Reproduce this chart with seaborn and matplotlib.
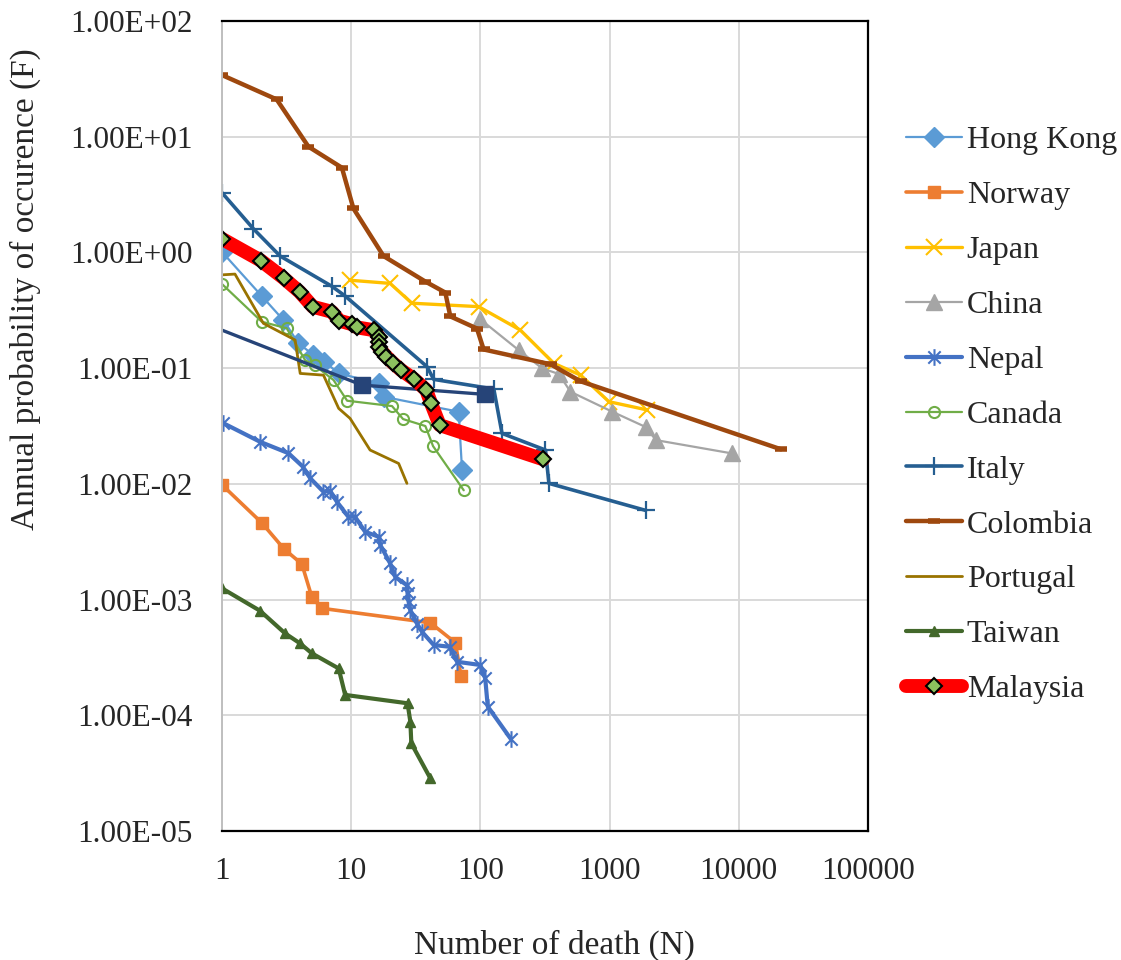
import matplotlib
matplotlib.use("Agg")
import matplotlib.pyplot as plt
import seaborn as sns
from matplotlib.path import Path
from matplotlib.ticker import FixedLocator, FuncFormatter, NullLocator

# F-N data (N = number of deaths, F = annual probability)
hk_n = [1, 2.03, 2.99, 3.9, 5.1, 6.2, 8.0, 16.3, 17.8, 67.9, 72.1]
hk_f = [1.01, 0.42, 0.26, 0.164, 0.13, 0.114, 0.090, 0.074, 0.0566, 0.042, 0.0131]

norway_n = [1, 2.03, 3.02, 4.15, 4.96, 5.93, 41, 64, 70.8]
norway_f = [0.0098, 0.00461, 0.00274, 0.00203, 0.00105, 0.00084, 0.00063, 0.000424, 0.000218]

japan_n = [9.8, 20, 29.5, 97, 204, 370, 596, 988, 1960]
japan_f = [0.575, 0.54, 0.364, 0.34, 0.213, 0.11, 0.087, 0.0513, 0.0435]

china_n = [100, 198, 301, 405, 498, 1050, 1925, 2275, 8930]
china_f = [0.264, 0.143, 0.0995, 0.089, 0.0625, 0.042, 0.0308, 0.0239, 0.0183]

nepal_n = [1.01, 1.97, 3.27, 4.22, 4.81, 6.1, 6.88, 7.75, 9.5, 10.7, 12.8, 16.3, 16.8,
           20, 21.9, 27, 27.3, 27.8, 28.7, 32.3, 35.3, 43.5, 57.8, 66, 100, 109, 114, 171]
nepal_f = [0.0337, 0.0231, 0.0184, 0.0141, 0.0112, 0.00855, 0.0087, 0.007, 0.0052, 0.0052,
           0.00386, 0.00349, 0.00296, 0.00206, 0.00157, 0.00133, 0.00113, 0.00096, 0.00081,
           0.00062, 0.000527, 0.000405, 0.000391, 0.00029, 0.000272, 0.000208, 0.000119, 0.000063]

canada_n = [1, 2.03, 3.17, 4.4, 5.2, 7.3, 9.3, 20.7, 25.2, 37.5, 43, 74.3]
canada_f = [0.533, 0.252, 0.221, 0.117, 0.106, 0.0789, 0.0523, 0.047, 0.0363, 0.0316, 0.0212, 0.0088]

italy_n = [1, 1.75, 2.82, 7.08, 8.98, 38.6, 43.5, 127, 147, 319, 339, 1900]
italy_f = [3.28, 1.6, 0.93, 0.51, 0.42, 0.103, 0.080, 0.066, 0.0273, 0.0196, 0.0101, 0.0059]

colombia_n = [1, 2.65, 4.67, 8.47, 10.4, 17.8, 37.5, 53.5, 58.5, 94, 106, 349, 596, 21180]
colombia_f = [34.1, 21, 8.2, 5.4, 2.4, 0.93, 0.56, 0.45, 0.28, 0.22, 0.145, 0.108, 0.077, 0.0199]

portugal_n = [1, 1.26, 2.09, 3.68, 4.03, 6.1, 8.0, 9.8, 14.0, 23.3, 27]
portugal_f = [0.64, 0.65, 0.244, 0.175, 0.090, 0.087, 0.0449, 0.0368, 0.0196, 0.015, 0.0101]

taiwan_n = [1, 1.97, 3.08, 4.02, 4.96, 8.0, 8.98, 27.3, 28.7, 29.2, 41]
taiwan_f = [0.00125, 0.0008, 0.00051, 0.000418, 0.000343, 0.000254, 0.00015, 0.000127,
            0.0000879, 0.0000572, 0.0000285]

malaysia_n = [1, 2.0, 3.0, 3.98, 5.05, 7.08, 8.1, 10.1, 11.1, 14.9, 16.3, 16.3, 16.3, 17.3,
              18.7, 21.0, 24.3, 30.8, 38.1, 41.5, 48.4, 306]
malaysia_f = [1.31, 0.85, 0.60, 0.457, 0.339, 0.307, 0.257, 0.24, 0.225, 0.213, 0.187, 0.169,
              0.153, 0.139, 0.126, 0.111, 0.0964, 0.080, 0.0647, 0.0497, 0.0322, 0.0163]

# extra unlabeled series (no legend entry in the original)
other_n = [1, 12.1, 109]
other_f = [0.213, 0.0714, 0.0593]

x_ticks = [1, 10, 100, 1000, 10000, 100000]
y_ticks = [1e-5, 1e-4, 1e-3, 1e-2, 1e-1, 1e0, 1e1, 1e2]

sns.set_style("white")
plt.rcParams["font.family"] = ["Liberation Serif", "DejaVu Serif"]

# Excel-like star marker: an X with a vertical bar
star = Path([(-1, -1), (1, 1), (-1, 1), (1, -1), (0, -1.35), (0, 1.35)],
            [Path.MOVETO, Path.LINETO, Path.MOVETO, Path.LINETO, Path.MOVETO, Path.LINETO])

fig = plt.figure(figsize=(11.21, 9.6), dpi=100)
ax = fig.add_axes([222 / 1121, 1 - 831 / 960, 646 / 1121, 810 / 960])


def draw(n, f, label, color, lw, marker=None, ms=0, mfc=None, mec=None, mew=1.0, **kw):
    sns.lineplot(x=n, y=f, ax=ax, label=label, color=color, linewidth=lw,
                 marker=marker, markersize=ms,
                 markerfacecolor=mfc if mfc is not None else color,
                 markeredgecolor=mec if mec is not None else color,
                 markeredgewidth=mew, estimator=None, sort=False, **kw)


draw(hk_n, hk_f, "Hong Kong", "#5B9BD5", 1.6, "D", 10)
draw(norway_n, norway_f, "Norway", "#ED7D31", 2.6, "s", 8.5)
draw(japan_n, japan_f, "Japan", "#FFC000", 2.4, "x", 12, mew=1.5)
draw(china_n, china_f, "China", "#A5A5A5", 1.6, "^", 11)
draw(nepal_n, nepal_f, "Nepal", "#4472C4", 3.0, star, 12, mew=1.5)
draw(canada_n, canada_f, "Canada", "#70AD47", 1.6, "o", 8, mfc="none", mew=1.5)
draw(italy_n, italy_f, "Italy", "#255E91", 2.6, "+", 13, mew=1.6)
draw(colombia_n, colombia_f, "Colombia", "#9E480E", 3.2, "_", 8, mew=4)
draw(portugal_n, portugal_f, "Portugal", "#997300", 2.0)
draw(taiwan_n, taiwan_f, "Taiwan", "#43682B", 3.0, "^", 7.5)
draw(other_n, other_f, "_other", "#264478", 2.4, "s", 11, markevery=[1, 2])
draw(malaysia_n, malaysia_f, "Malaysia", "#FF0000", 10, "D", 8, mfc="#8CC15E", mec="black", mew=1.5)

ax.set_xscale("log")
ax.set_yscale("log")
ax.set_xlim(1, 100000)
ax.set_ylim(1e-5, 1e2)
ax.xaxis.set_major_locator(FixedLocator(x_ticks))
ax.yaxis.set_major_locator(FixedLocator(y_ticks))
ax.xaxis.set_minor_locator(NullLocator())
ax.yaxis.set_minor_locator(NullLocator())
ax.xaxis.set_major_formatter(FuncFormatter(lambda v, p: f"{v:.0f}"))
ax.yaxis.set_major_formatter(FuncFormatter(lambda v, p: f"{v:.2E}"))
ax.tick_params(axis="both", length=0, labelsize=22.5)
ax.tick_params(axis="x", pad=19)
ax.tick_params(axis="y", pad=21)

ax.grid(True, color="#D9D9D9", linewidth=1.4)
ax.set_axisbelow(True)
for side in ["top", "right", "bottom"]:
    ax.spines[side].set_color("black")
    ax.spines[side].set_linewidth(1.6)
ax.spines["left"].set_color("#BFBFBF")
ax.spines["left"].set_linewidth(1.4)

ax.set_xlabel("Number of death (N)", fontsize=24)
ax.set_ylabel("Annual probability of occurence (F)", fontsize=24)
ax.xaxis.set_label_coords(0.514, -0.122)
ax.yaxis.set_label_coords(-0.28, 0.669)

handles, labels = ax.get_legend_handles_labels()
ax.legend(handles, labels, loc="center left", bbox_to_anchor=(906 / 1121, 1 - 415 / 960),
          bbox_transform=fig.transFigure, frameon=False, fontsize=23, numpoints=1,
          handlelength=1.75, handletextpad=0.15, labelspacing=0.8, borderpad=0,
          borderaxespad=0)

fig.savefig("out.png", dpi=100)
